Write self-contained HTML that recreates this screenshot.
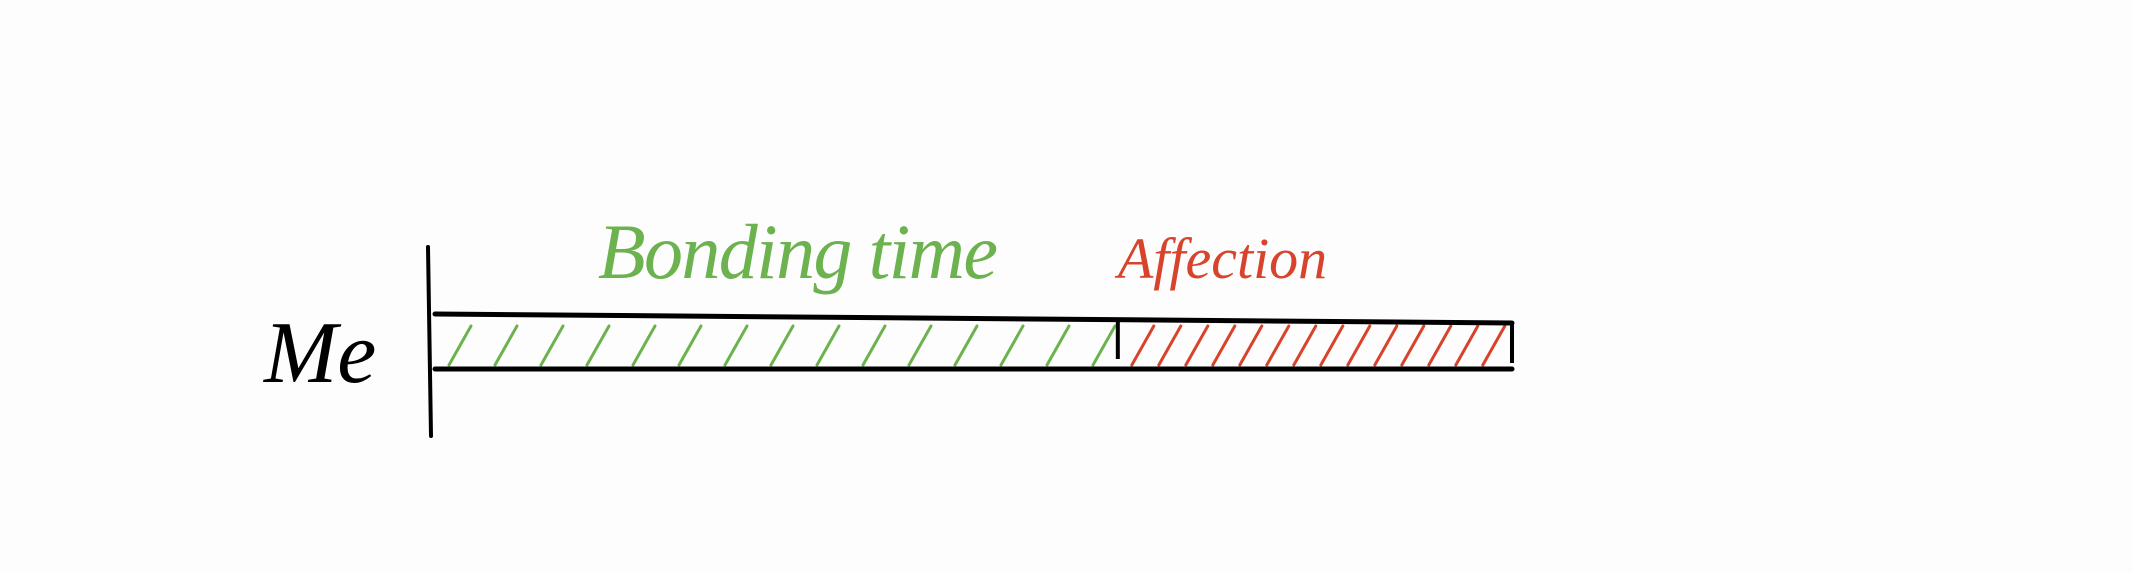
<!DOCTYPE html>
<html><head><meta charset="utf-8"><style>
html,body{margin:0;padding:0;background:#fdfdfd;}
svg{display:block}
text{font-family:"Liberation Serif",serif;font-style:italic}
</style></head><body>
<svg id="chart" width="2132" height="573" viewBox="0 0 2132 573" xmlns="http://www.w3.org/2000/svg">
<rect width="2132" height="573" fill="#fdfdfd"/>
<line x1="428" y1="247" x2="431" y2="436" stroke="#000" stroke-width="4" stroke-linecap="round"/>
<text x="264" y="382" font-size="88" fill="#000">Me</text>
<g id="bars"></g>
</svg>
<script>
const categories = ["Bonding time", "Affection"];
const values = [63.4, 36.6];
const colors = ["#6cb24e", "#d8432c"];
const hatchGap = [46, 27];

const x0 = 435, x1 = 1512, yTop = 314, yBot = 369;
const total = values.reduce((a,b)=>a+b,0);
function xScale(v){ return x0 + (v/total)*(x1-x0); }
const ns = "http://www.w3.org/2000/svg";
const g = document.getElementById('bars');
function mk(tag, attrs){ const e=document.createElementNS(ns,tag); for(const k in attrs) e.setAttribute(k,attrs[k]); return e; }

let acc = 0;
values.forEach((v,i)=>{
  const sx = xScale(acc), ex = xScale(acc+v);
  const seg = mk('g',{});
  
  
  for(let x = sx + 30; x < ex - 6; x += hatchGap[i]){
    const l = mk('line',{x1:x-16, y1:yBot-4, x2:x+6, y2:yTop+12, stroke:colors[i], 'stroke-width':3, 'stroke-linecap':'round'});
    
    
    seg.appendChild(l);
  }
  if(i>0){
    const d = mk('line',{x1:sx, y1:yTop+8, x2:sx, y2:yBot-10, stroke:'#000', 'stroke-width':4});
    
    
    seg.appendChild(d);
  }
  const attrs = {x:(i===0? sx+163 : sx), y:278, 'font-size':(i===0?78:58), fill:colors[i]};
  if(i===0) attrs.textLength = 400;
  const t = mk('text', attrs);
  t.textContent = categories[i];
  
  
  seg.appendChild(t);
  g.appendChild(seg);
  acc += v;
});
const topEdge = mk('line',{x1:x0, y1:yTop, x2:x1, y2:yTop+9, stroke:'#000', 'stroke-width':5, 'stroke-linecap':'round'});


g.appendChild(topEdge);
const botEdge = mk('line',{x1:x0, y1:yBot, x2:x1, y2:yBot, stroke:'#000', 'stroke-width':5, 'stroke-linecap':'round'});


g.appendChild(botEdge);
const rendEdge = mk('line',{x1:x1, y1:yTop+9, x2:x1, y2:yBot-6, stroke:'#000', 'stroke-width':4});


g.appendChild(rendEdge);
</script>
</body></html>
